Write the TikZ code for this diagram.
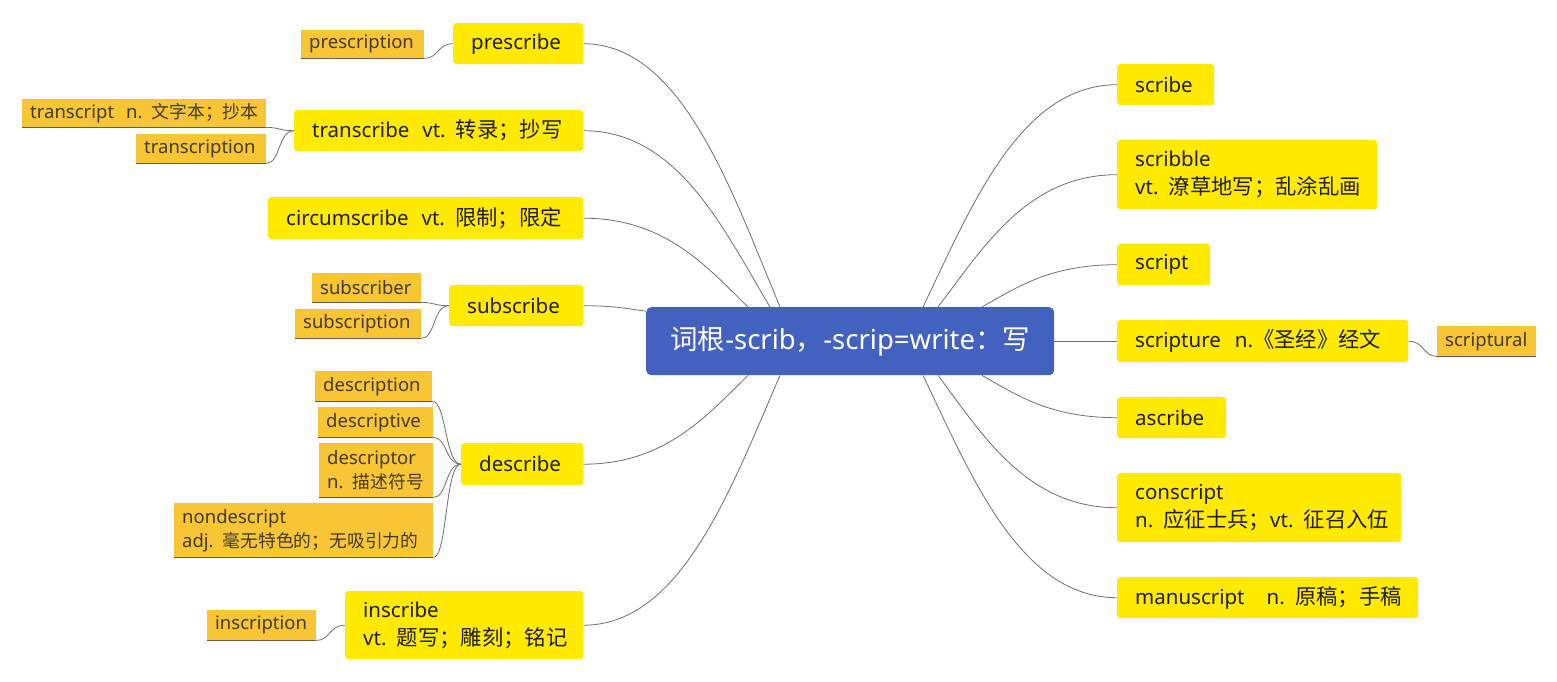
\documentclass[tikz,border=0pt]{standalone}
\usepackage{fontspec}
\setmainfont{Noto Sans}
\newfontfamily\cjkm{Noto Sans CJK SC}
\newfontfamily\cjkf[Scale=1.04]{Noto Sans CJK SC}
\newfontfamily\cjko[Scale=0.96]{Noto Sans CJK SC}
\newcommand\zm[1]{{\cjkm #1}}
\newcommand\zh[1]{{\cjkf #1}}
\newcommand\zo[1]{{\cjko #1}}
\usetikzlibrary{calc}
\definecolor{ybox}{RGB}{255,234,0}
\definecolor{obox}{RGB}{248,198,52}
\definecolor{cblue}{RGB}{67,97,190}
\definecolor{lnk}{RGB}{112,112,112}
\definecolor{otext}{RGB}{66,58,40}
\definecolor{uline}{RGB}{105,92,66}
\definecolor{ytext}{RGB}{30,30,30}
\tikzset{
  ynode/.style={fill=ybox, rounded corners=3pt, anchor=north west, inner xsep=18pt, inner ysep=0pt,
    align=left, font=\fontsize{20.5}{28}\selectfont, text=ytext},
  onode/.style={fill=obox, anchor=north west, inner xsep=8pt, inner ysep=0pt,
    align=left, font=\fontsize{18.5}{24}\selectfont, text=otext},
  link/.style={draw=lnk, line width=0.8pt},
  uln/.style={draw=uline, line width=0.9pt},
}
\begin{document}
\begin{tikzpicture}[x=1pt,y=-1pt]
\useasboundingbox[fill=white] (0,0) rectangle (1557,681);
% center
\node[fill=cblue, rounded corners=5pt, anchor=north west, minimum width=408pt, minimum height=68pt,
  inner sep=0pt, text=white, font=\fontsize{27.5}{32}\selectfont] (c) at (646,307)
  {\zm{词根}-scrib\zm{，}-scrip=write\zm{：写}};
% left main nodes
\node[ynode, text width=94pt,  minimum height=41pt] (prescribe) at (453,23) {prescribe};
\node[ynode, text width=253pt, minimum height=41pt] (transcribe) at (294,110) {\mbox{transcribe\hspace{13pt}vt. \zh{转录；抄写}}};
\node[ynode, text width=279pt, minimum height=42pt] (circum) at (268,197) {\mbox{circumscribe\hspace{13pt}vt. \zh{限制；限定}}};
\node[ynode, text width=98pt,  minimum height=41pt] (subscribe) at (449,285) {subscribe};
\node[ynode, text width=86pt,  minimum height=42pt] (describe) at (461,443) {describe};
\node[ynode, text width=202pt, minimum height=68pt] (inscribe) at (345,591) {inscribe\\\mbox{vt. \zh{题写；雕刻；铭记}}};
% right main nodes
\node[ynode, text width=61pt,  minimum height=41pt] (scribe) at (1117,64) {scribe};
\node[ynode, text width=224pt, minimum height=69pt] (scribble) at (1117,140) {scribble\\\mbox{vt. \zh{潦草地写；乱涂乱画}}};
\node[ynode, text width=57pt,  minimum height=41pt] (script) at (1117,244) {script};
\node[ynode, text width=255pt, minimum height=42pt] (scripture) at (1117,320) {\mbox{scripture\hspace{14pt}n.\zh{《圣经》经文}}};
\node[ynode, text width=73pt,  minimum height=41pt] (ascribe) at (1117,397) {ascribe};
\node[ynode, text width=248pt, minimum height=69pt] (conscript) at (1117,473) {conscript\\\mbox{n. \zh{应征士兵；}vt. \zh{征召入伍}}};
\node[ynode, text width=265pt, minimum height=41pt] (manuscript) at (1117,577) {\mbox{manuscript\hspace{22pt}n. \zh{原稿；手稿}}};
% sub nodes
\node[onode, text width=107pt, minimum height=28pt] (prescription) at (301,30) {prescription};
\node[onode, text width=228pt, minimum height=28pt] (transcript) at (22,99) {\mbox{transcript\hspace{12pt}n. \zo{文字本；抄本}}};
\node[onode, text width=114pt, minimum height=29pt] (transcription) at (136,134) {transcription};
\node[onode, text width=93pt,  minimum height=29pt] (subscriber) at (312,273) {subscriber};
\node[onode, text width=110pt, minimum height=29pt] (subscription) at (295,309) {subscription};
\node[onode, text width=101pt, minimum height=30pt] (description) at (315,371) {description};
\node[onode, text width=99pt,  minimum height=30pt] (descriptive) at (318,407) {descriptive};
\node[onode, text width=98pt,  minimum height=54pt] (descriptor) at (319,443) {descriptor\\\mbox{n. \zo{描述符号}}};
\node[onode, text width=243pt, minimum height=54pt] (nondescript) at (174,503) {nondescript\\\mbox{adj. \zo{毫无特色的；无吸引力的}}};
\node[onode, text width=93pt,  minimum height=30pt] (inscription) at (207,610) {inscription};
\node[onode, text width=83pt,  minimum height=30pt] (scriptural) at (1437,326) {scriptural};
% start points on the center node
\coordinate (t1) at ([xshift=134pt]c.north west);
\coordinate (t2) at ([xshift=124pt]c.north west);
\coordinate (t3) at ([xshift=102pt]c.north west);
\coordinate (t4) at ([yshift=30pt]c.west);
\coordinate (b1) at ([xshift=102pt]c.south west);
\coordinate (b2) at ([xshift=134pt]c.south west);
\coordinate (r1) at ([xshift=277pt]c.north west);
\coordinate (r2) at ([xshift=292pt]c.north west);
\coordinate (r3) at ([xshift=336pt]c.north west);
\coordinate (q1) at ([xshift=336pt]c.south west);
\coordinate (q2) at ([xshift=292pt]c.south west);
\coordinate (q3) at ([xshift=277pt]c.south west);
% main links
\draw[link] (t1) .. controls +(-49,-118) and +(98,0) .. (prescribe.east);
\draw[link] (t2) .. controls +(-47,-79) and +(94,0) .. (transcribe.east);
\draw[link] (t3) .. controls +(-41,-40) and +(82,0) .. (circum.east);
\draw[link] (t4) .. controls +(-16,-2) and +(32,0) .. (subscribe.east);
\draw[link] (b1) .. controls +(-41,40) and +(82,0) .. (describe.east);
\draw[link] (b2) .. controls +(-49,113) and +(98,0) .. (inscribe.east);
\draw[link] (r1) .. controls +(48,-100) and +(-97,0) .. (scribe.west);
\draw[link] (r2) .. controls +(45,-59) and +(-90,0) .. (scribble.west);
\draw[link] (r3) .. controls +(34,-19) and +(-68,0) .. (script.west);
\draw[link] (c.east) -- (scripture.west);
\draw[link] (q1) .. controls +(34,19) and +(-68,0) .. (ascribe.west);
\draw[link] (q2) .. controls +(45,60) and +(-90,0) .. (conscript.west);
\draw[link] (q3) .. controls +(48,100) and +(-97,0) .. (manuscript.west);
% sub links
\draw[link] (prescribe.west) .. controls +(-16,0) and +(14,0) .. (prescription.south east);
\draw[link] (transcribe.west) .. controls +(-16,0) and +(14,0) .. (transcript.south east);
\draw[link] (transcribe.west) .. controls +(-16,0) and +(14,0) .. (transcription.south east);
\draw[link] (subscribe.west) .. controls +(-16,0) and +(14,0) .. (subscriber.south east);
\draw[link] (subscribe.west) .. controls +(-16,0) and +(14,0) .. (subscription.south east);
\draw[link] (describe.west) .. controls +(-16,0) and +(14,0) .. (description.south east);
\draw[link] (describe.west) .. controls +(-16,0) and +(14,0) .. (descriptive.south east);
\draw[link] (describe.west) .. controls +(-16,0) and +(14,0) .. (descriptor.south east);
\draw[link] (describe.west) .. controls +(-16,0) and +(14,0) .. (nondescript.south east);
\draw[link] (inscribe.west) .. controls +(-16,0) and +(14,0) .. (inscription.south east);
\draw[link] (scripture.east) .. controls +(16,0) and +(-14,0) .. (scriptural.south west);
% underlines
\foreach \n in {prescription,transcript,transcription,subscriber,subscription,description,descriptive,descriptor,nondescript,inscription,scriptural}
  \draw[uln] (\n.south west) -- (\n.south east);
\end{tikzpicture}
\end{document}
